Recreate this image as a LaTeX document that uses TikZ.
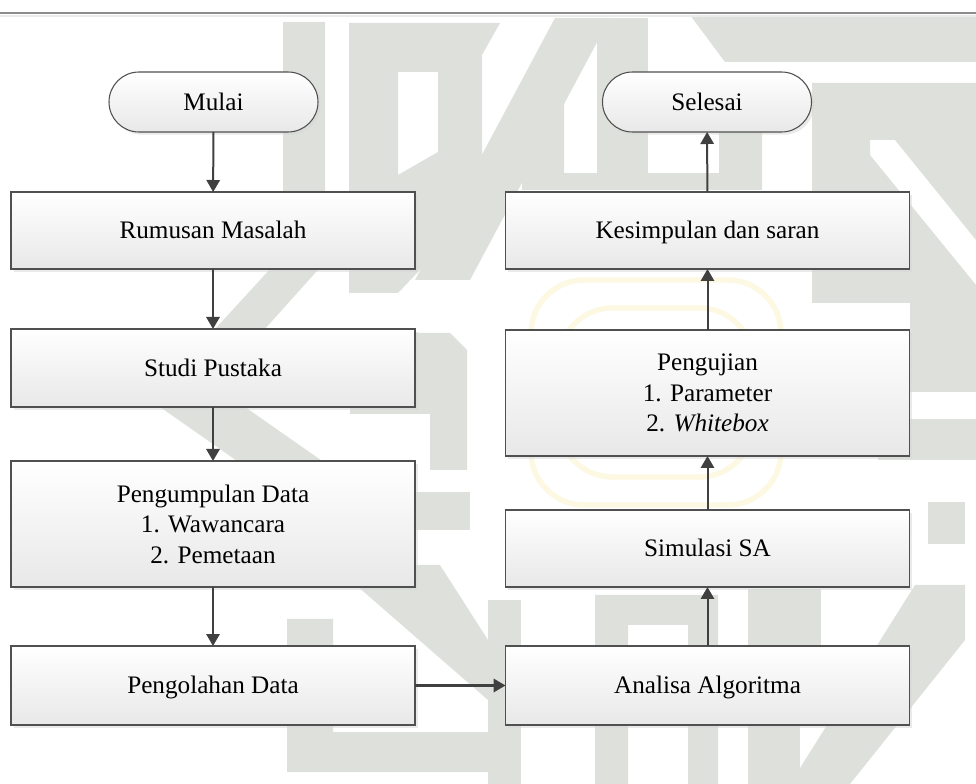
\documentclass[tikz,border=0pt]{standalone}
\usepackage{fontspec}
\setmainfont{Liberation Serif}
\usetikzlibrary{shapes.misc,shadows,arrows.meta}
\definecolor{wm}{RGB}{222,225,219}
\definecolor{logo}{RGB}{252,248,226}
\definecolor{edge}{RGB}{80,80,80}
\definecolor{arr}{RGB}{64,64,64}
\definecolor{boxbot}{RGB}{232,232,232}
\begin{document}
\begin{tikzpicture}[x=0.75pt,y=-0.75pt,
  base/.style={draw=edge, line width=0.8pt, top color=white, bottom color=boxbot,
    inner sep=0pt, outer sep=0pt, font=\fontsize{18.9}{22.9}\selectfont,
    drop shadow={shadow xshift=2pt, shadow yshift=-2pt, fill=black!16}},
  procbox/.style={base, rectangle, minimum width=303pt},
  one/.style={text height=12.6pt, text depth=0pt},
  multi/.style={align=center},
  term/.style={base, rounded rectangle, minimum width=156.75pt, minimum height=45pt, one},
  flow/.style={draw=arr, line width=1.5pt, -{Triangle[length=9pt,width=10pt]}},
  flowthick/.style={flow, line width=2pt}
]
\useasboundingbox (0,0) rectangle (976,784);
\fill[white] (0,0) rectangle (976,784);
% watermark
\begin{scope}
\fill[wm] (283,22)--(325,22)--(325,262)--(255,340)--(205,340)--(283,255)--cycle;
\fill[wm,even odd rule] (349,23)--(500,23)--(482,55)--(482,205)--(398,293)--(349,293)--cycle
  (398,72)--(438,72)--(438,152)--(398,175)--cycle;
\fill[wm] (555,18)--(610,18)--(470,280)--(415,280)--cycle;
\fill[wm] (522,120)--(564,70)--(564,187)--(522,187)--cycle;
\fill[wm] (597,18)--(648,18)--(648,187)--(597,187)--cycle;
\fill[wm] (522,173)--(762,173)--(762,190)--(522,190)--cycle;
\fill[wm] (719,90)--(762,120)--(762,187)--(719,187)--cycle;
\fill[wm] (690,15)--(976,15)--(976,62)--(725,62)--cycle;
\fill[wm] (812,83)--(976,83)--(976,140)--(870,140)--(870,303)--(812,303)--cycle;
\fill[wm] (895,140)--(976,140)--(976,240)--cycle;
\fill[wm] (870,155)--(976,285)--(976,340)--(910,340)--(910,303)--(870,303)--cycle;
\fill[wm] (910,333)--(976,333)--(976,392)--(910,392)--cycle;
\fill[wm] (878,419)--(976,419)--(976,460)--(878,460)--cycle;
\fill[wm] (928,502)--(965,502)--(965,544)--(928,544)--cycle;
\fill[wm] (350,333)--(450,333)--(467,350)--(467,470)--(430,470)--(430,414)--(350,414)--cycle;
\fill[wm] (150,400)--(235,400)--(335,470)--(250,470)--cycle;
\fill[wm] (333,492)--(470,492)--(470,530)--(333,530)--cycle;
\fill[wm] (287,619)--(333,619)--(333,732)--(488,732)--(488,772)--(287,772)--cycle;
\fill[wm] (333,565)--(440,565)--(488,640)--(488,700)--cycle;
\fill[wm,even odd rule] (595,595)--(718,595)--(718,784)--(595,784)--cycle
  (628,625)--(688,625)--(688,784)--(628,784)--cycle;
\fill[wm] (748,589)--(821,589)--(821,645)--(748,645)--cycle;
\fill[wm] (748,725)--(800,725)--(800,784)--(748,784)--cycle;
\fill[wm] (915,585)--(965,585)--(965,640)--(850,784)--(790,784)--cycle;
\fill[wm] (488,600)--(521,600)--(521,784)--(488,784)--cycle;
\foreach \r in {0,28,56,84}
  \draw[logo, line width=4pt, rounded corners=40pt] (531+\r,280+\r) rectangle (781-\r,505-\r);
\end{scope}
% top rule
\draw[black!45, line width=1.5pt] (0,13) -- (976,13);
\draw[black!8, line width=0.8pt] (0,16) -- (976,16);
% nodes
\node[term] (mulai) at (213.5,102) {Mulai};
\node[term] (selesai) at (707,102) {Selesai};
\node[procbox, one, minimum height=57.75pt] (rumusan) at (213,230.5) {Rumusan Masalah};
\node[procbox, one, minimum height=58.5pt] (studi) at (213,368) {Studi Pustaka};
\node[procbox, multi, minimum height=94.5pt] (kumpul) at (213,524) {Pengumpulan Data\\1. Wawancara\\2. Pemetaan};
\node[procbox, one, minimum height=59.25pt] (olah) at (213,685.5) {Pengolahan Data};
\node[procbox, one, minimum height=57.75pt] (simpul) at (707.5,230.5) {Kesimpulan dan saran};
\node[procbox, multi, minimum height=94.5pt] (uji) at (707.5,393) {Pengujian\\1. Parameter\\2. \textit{Whitebox}};
\node[procbox, one, minimum height=57.75pt] (simulasi) at (707.5,548.5) {Simulasi SA};
\node[procbox, one, minimum height=59.25pt] (analisa) at (707.5,685.5) {Analisa Algoritma};
% connectors
\draw[flow] (mulai) -- (rumusan);
\draw[flow] (rumusan) -- (studi);
\draw[flow] (studi) -- (kumpul);
\draw[flow] (kumpul) -- (olah);
\draw[flowthick] (olah) -- (analisa);
\draw[flow] (analisa) -- (simulasi);
\draw[flow] (simulasi) -- (uji);
\draw[flow] (uji) -- (simpul);
\draw[flow] (simpul) -- (selesai);
\end{tikzpicture}
\end{document}
